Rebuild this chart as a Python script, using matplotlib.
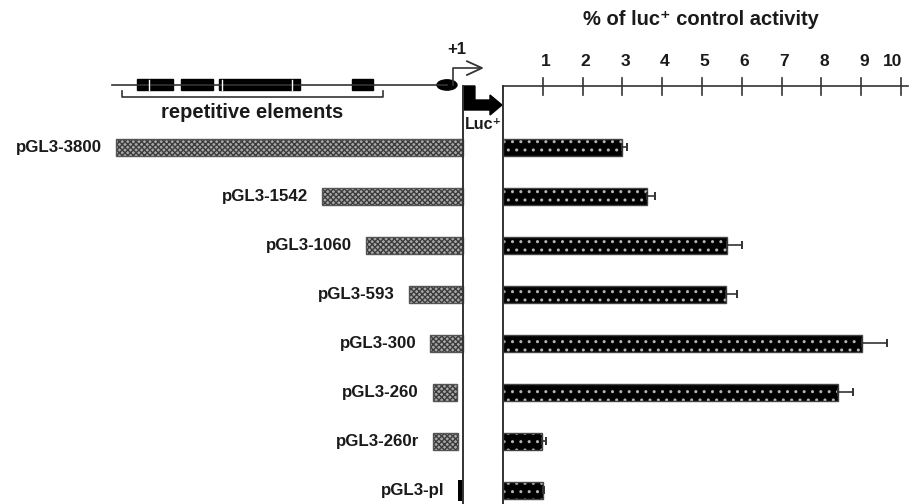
import matplotlib.pyplot as plt
import matplotlib.patches as mpatches
import numpy as np

plt.rcParams['font.family'] = ['Liberation Sans', 'DejaVu Sans']
plt.rcParams['font.weight'] = 'bold'
plt.rcParams['hatch.linewidth'] = 1.0

# constructs, top to bottom
constructs = ['pGL3-3800', 'pGL3-1542', 'pGL3-1060', 'pGL3-593',
              'pGL3-300', 'pGL3-260', 'pGL3-260r', 'pGL3-pl']
# promoter fragment as drawn (bp relative to luc start)
frag_start = [-3800, -1542, -1060, -593, -360, -330, -330, -55]
frag_end = [0, 0, 0, 0, 0, -66, -55, 0]
# % of luc+ control activity
activity = [2.99, 3.62, 5.63, 5.60, 9.02, 8.42, 0.98, 1.00]
act_err = [0.13, 0.20, 0.38, 0.28, 0.63, 0.38, 0.10, 0.03]
tick_vals = [1, 2, 3, 4, 5, 6, 7, 8, 9, 10]

# upstream schematic (bp)
repeat_blocks = [(-3570, -3176), (-3088, -2738), (-2672, -1785), (-1215, -986)]
block_gaps = [-3438, -2639, -1872]
repeat_span = (-3734, -876)
line_start = -3844
tata_pos = -175

rows = np.arange(len(constructs))
ylim = (7.276, -3.010)
line_y = -1.276
edge = '#333333'
txt = '#1a1a1a'

fig = plt.figure(figsize=(9.13, 5.04), dpi=100)
axL = fig.add_axes([0, 0, 1, 1])
axR = fig.add_axes([0, 0, 1, 1])
for ax in (axL, axR):
    ax.set_ylim(*ylim)
    ax.axis('off')
    ax.patch.set_alpha(0)
axL.set_xlim(-5071, 4929)
axR.set_xlim(-12.638, 10.302)

# ---- left: constructs
s = np.array(frag_start)
e = np.array(frag_end)
h = 0.36
axL.barh(rows[:-1], (e - s)[:-1], left=s[:-1], height=h, color='#a8a8a8',
         edgecolor='#3c3c3c', hatch='xxxxxx', linewidth=0)
axL.barh(rows[:-1], (e - s)[:-1], left=s[:-1], height=h, fill=False,
         edgecolor='#555555', linewidth=1.0)
axL.barh(rows[-1:], (e - s)[-1:], left=s[-1:], height=0.42, color='black')
for r, name, x0 in zip(rows, constructs, s):
    axL.annotate(name, (x0, r), xytext=(-10, 0), textcoords='offset points',
                 ha='right', va='center', fontsize=12.2, fontweight='bold',
                 color=txt)

# schematic
axL.plot([line_start, tata_pos], [line_y, line_y], color=edge, lw=1.2)
for b0, b1 in repeat_blocks:
    axL.add_patch(mpatches.Rectangle((b0, line_y - 0.112), b1 - b0, 0.224,
                                     color='black'))
for g in block_gaps:
    axL.plot([g, g], [line_y - 0.11, line_y + 0.11], color='white', lw=1)
r0, r1 = repeat_span
axL.plot([r0, r0, r1, r1], [-1.153, -1.031, -1.031, -1.153], color=edge, lw=1.2)
axL.text((r0 + r1) / 2, -0.704, 'repetitive elements', ha='center', va='center',
         fontsize=14.5, fontweight='bold', color=txt)
axL.add_patch(mpatches.Ellipse((tata_pos, line_y), 219, 0.21, color='black'))
# transcription start arrow (open)
axL.plot([-110, -110, 200], [line_y, -1.622, -1.622], color=edge, lw=1.2)
axL.plot([44, 208, 44], [-1.76, -1.622, -1.48], color=edge, lw=1.3)
axL.text(-70, -1.99, '+1', ha='center', va='center', fontsize=12,
         fontweight='bold', color=txt)
# luc arrow
luc = [(0, -1.255), (131, -1.255), (131, -0.969), (296, -0.969), (296, -1.071),
       (427, -0.867), (296, -0.663), (296, -0.765), (0, -0.765)]
axL.add_patch(mpatches.Polygon(luc, closed=True, color='black'))
axL.text(228, -0.459, 'Luc\u207a', ha='center', va='center', fontsize=11.5,
         fontweight='bold', color=txt)
axL.plot([0, 0], [-1.255, ylim[0]], color=edge, lw=1.4)

# ---- right: activity bars
axR.barh(rows, activity, height=0.35, color='black', edgecolor='#b5b5b5',
         hatch='..', linewidth=0)
axR.barh(rows, activity, height=0.35, fill=False, edgecolor='#444444',
         linewidth=1.0)
axR.errorbar(activity, rows, xerr=[np.zeros(len(act_err)), act_err], fmt='none',
             ecolor=edge, elinewidth=1.2, capsize=3.2, capthick=1.4)
axR.plot([0, 0], [ylim[0], -1.255], color=edge, lw=1.4)
axR.plot([0, 10.18], [-1.255, -1.255], color=edge, lw=1.2)
for t in tick_vals:
    axR.plot([t, t], [-1.418, -1.071], color=edge, lw=1.2)
    lx = t + 0.07 if t < 10 else t - 0.2
    axR.text(lx, -1.745, str(t), ha='center', va='center', fontsize=12.5,
             fontweight='bold', color=txt)
axR.text(4.97, -2.602, '% of luc\u207a control activity', ha='center',
         va='center', fontsize=14.5, fontweight='bold', color=txt)

fig.savefig('out.png', dpi=100)
